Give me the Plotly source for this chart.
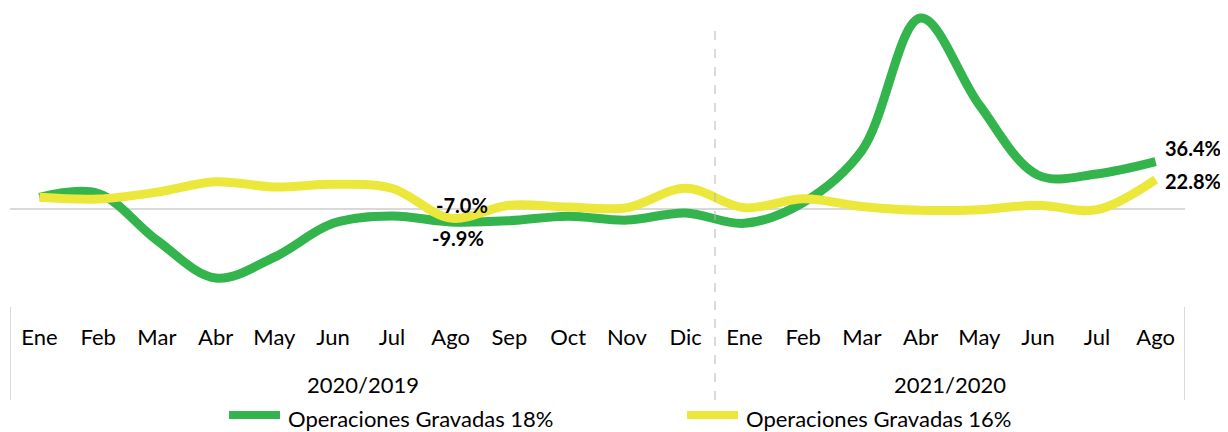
import plotly.graph_objects as go

months = ["Ene", "Feb", "Mar", "Abr", "May", "Jun", "Jul", "Ago", "Sep", "Oct", "Nov", "Dic",
          "Ene", "Feb", "Mar", "Abr", "May", "Jun", "Jul", "Ago"]
groups = ["2020/2019", "2021/2020"]
group_centers = [5.5, 15.5]
series_names = ["Operaciones Gravadas 18%", "Operaciones Gravadas 16%"]

gravadas_18 = [9, 12, -24, -53, -37, -11, -5.4, -9.9, -9, -5.5, -8.5, -3,
               -11, 5, 45, 147, 80, 26, 27, 36.4]
gravadas_16 = [9, 7.7, 13, 21, 17, 19, 16, -7.0, 3, 1.5, 1, 16,
               1, 8, 2, -1, -0.5, 3, -0.5, 22.8]

x = list(range(len(months)))
GREEN = "#34b44c"
YELLOW = "#ebe83b"
FONT = "Lato"
FS = 22

fig = go.Figure()
fig.add_trace(go.Scatter(x=x, y=gravadas_18, mode="lines", name=series_names[0],
                         line=dict(color=GREEN, width=9, shape="spline", smoothing=1.0)))
fig.add_trace(go.Scatter(x=x, y=gravadas_16, mode="lines", name=series_names[1],
                         line=dict(color=YELLOW, width=9, shape="spline", smoothing=1.0)))

lab_font = dict(size=20, color="black", family=FONT)
annotations = [
    dict(x=7, y=gravadas_16[7], text="<b>%.1f%%</b>" % gravadas_16[7], showarrow=False,
         xshift=11, yshift=13, font=lab_font),
    dict(x=7, y=gravadas_18[7], text="<b>%.1f%%</b>" % gravadas_18[7], showarrow=False,
         xshift=7, yshift=-16, font=lab_font),
    dict(x=19, y=gravadas_18[19], text="<b>%.1f%%</b>" % gravadas_18[19], showarrow=False,
         xanchor="left", xshift=7, yshift=14, font=lab_font),
    dict(x=19, y=gravadas_16[19], text="<b>%.1f%%</b>" % gravadas_16[19], showarrow=False,
         xanchor="left", xshift=7, yshift=-1.5, font=lab_font),
]
for g, c in zip(groups, group_centers):
    annotations.append(dict(x=c, y=-0.271, xref="x", yref="paper", yanchor="middle", text=g,
                            showarrow=False, font=dict(size=FS, color="black", family=FONT)))

# manual legend
legend_items = [(series_names[0], GREEN, 0.1864, 0.2298, 0.2349),
                (series_names[1], YELLOW, 0.5762, 0.6196, 0.6247)]
shapes = [
    dict(type="line", xref="x", yref="y", x0=-0.5, x1=19.5, y0=0, y1=0,
         line=dict(color="#d9d9d9", width=2), layer="below"),
    dict(type="line", xref="x", yref="paper", x0=-0.5, x1=-0.5, y0=-0.007, y1=-0.322,
         line=dict(color="#d9d9d9", width=2)),
    dict(type="line", xref="x", yref="paper", x0=19.5, x1=19.5, y0=-0.007, y1=-0.322,
         line=dict(color="#d9d9d9", width=2)),
    dict(type="line", xref="x", yref="paper", x0=11.5, x1=11.5, y0=-0.322, y1=0.949,
         line=dict(color="#b5b5b5", width=1, dash="dash")),
]
for name, col, sx0, sx1, tx in legend_items:
    shapes.append(dict(type="line", xref="paper", yref="paper", x0=sx0, x1=sx1,
                       y0=-0.373, y1=-0.373, line=dict(color=col, width=8)))
    annotations.append(dict(x=tx, y=-0.385, xref="paper", yref="paper", xanchor="left",
                            yanchor="middle", text=name, showarrow=False,
                            font=dict(size=FS, color="black", family=FONT)))

fig.update_layout(
    width=1220, height=424,
    margin=dict(l=2, r=43, t=2, b=127),
    plot_bgcolor="white", paper_bgcolor="white",
    font=dict(family=FONT, size=FS, color="black"),
    showlegend=False,
    annotations=annotations,
    shapes=shapes,
)
fig.update_xaxes(range=[-0.5, 19.5], tickmode="array", tickvals=x, ticktext=months,
                 showgrid=False, zeroline=False, showline=False, ticks="",
                 ticklabelstandoff=17, tickfont=dict(size=FS, family=FONT, color="black"))
fig.update_yaxes(range=[-73.8, 153.1], showgrid=False, zeroline=False, showline=False,
                 showticklabels=False)

fig.write_html("out.html")
